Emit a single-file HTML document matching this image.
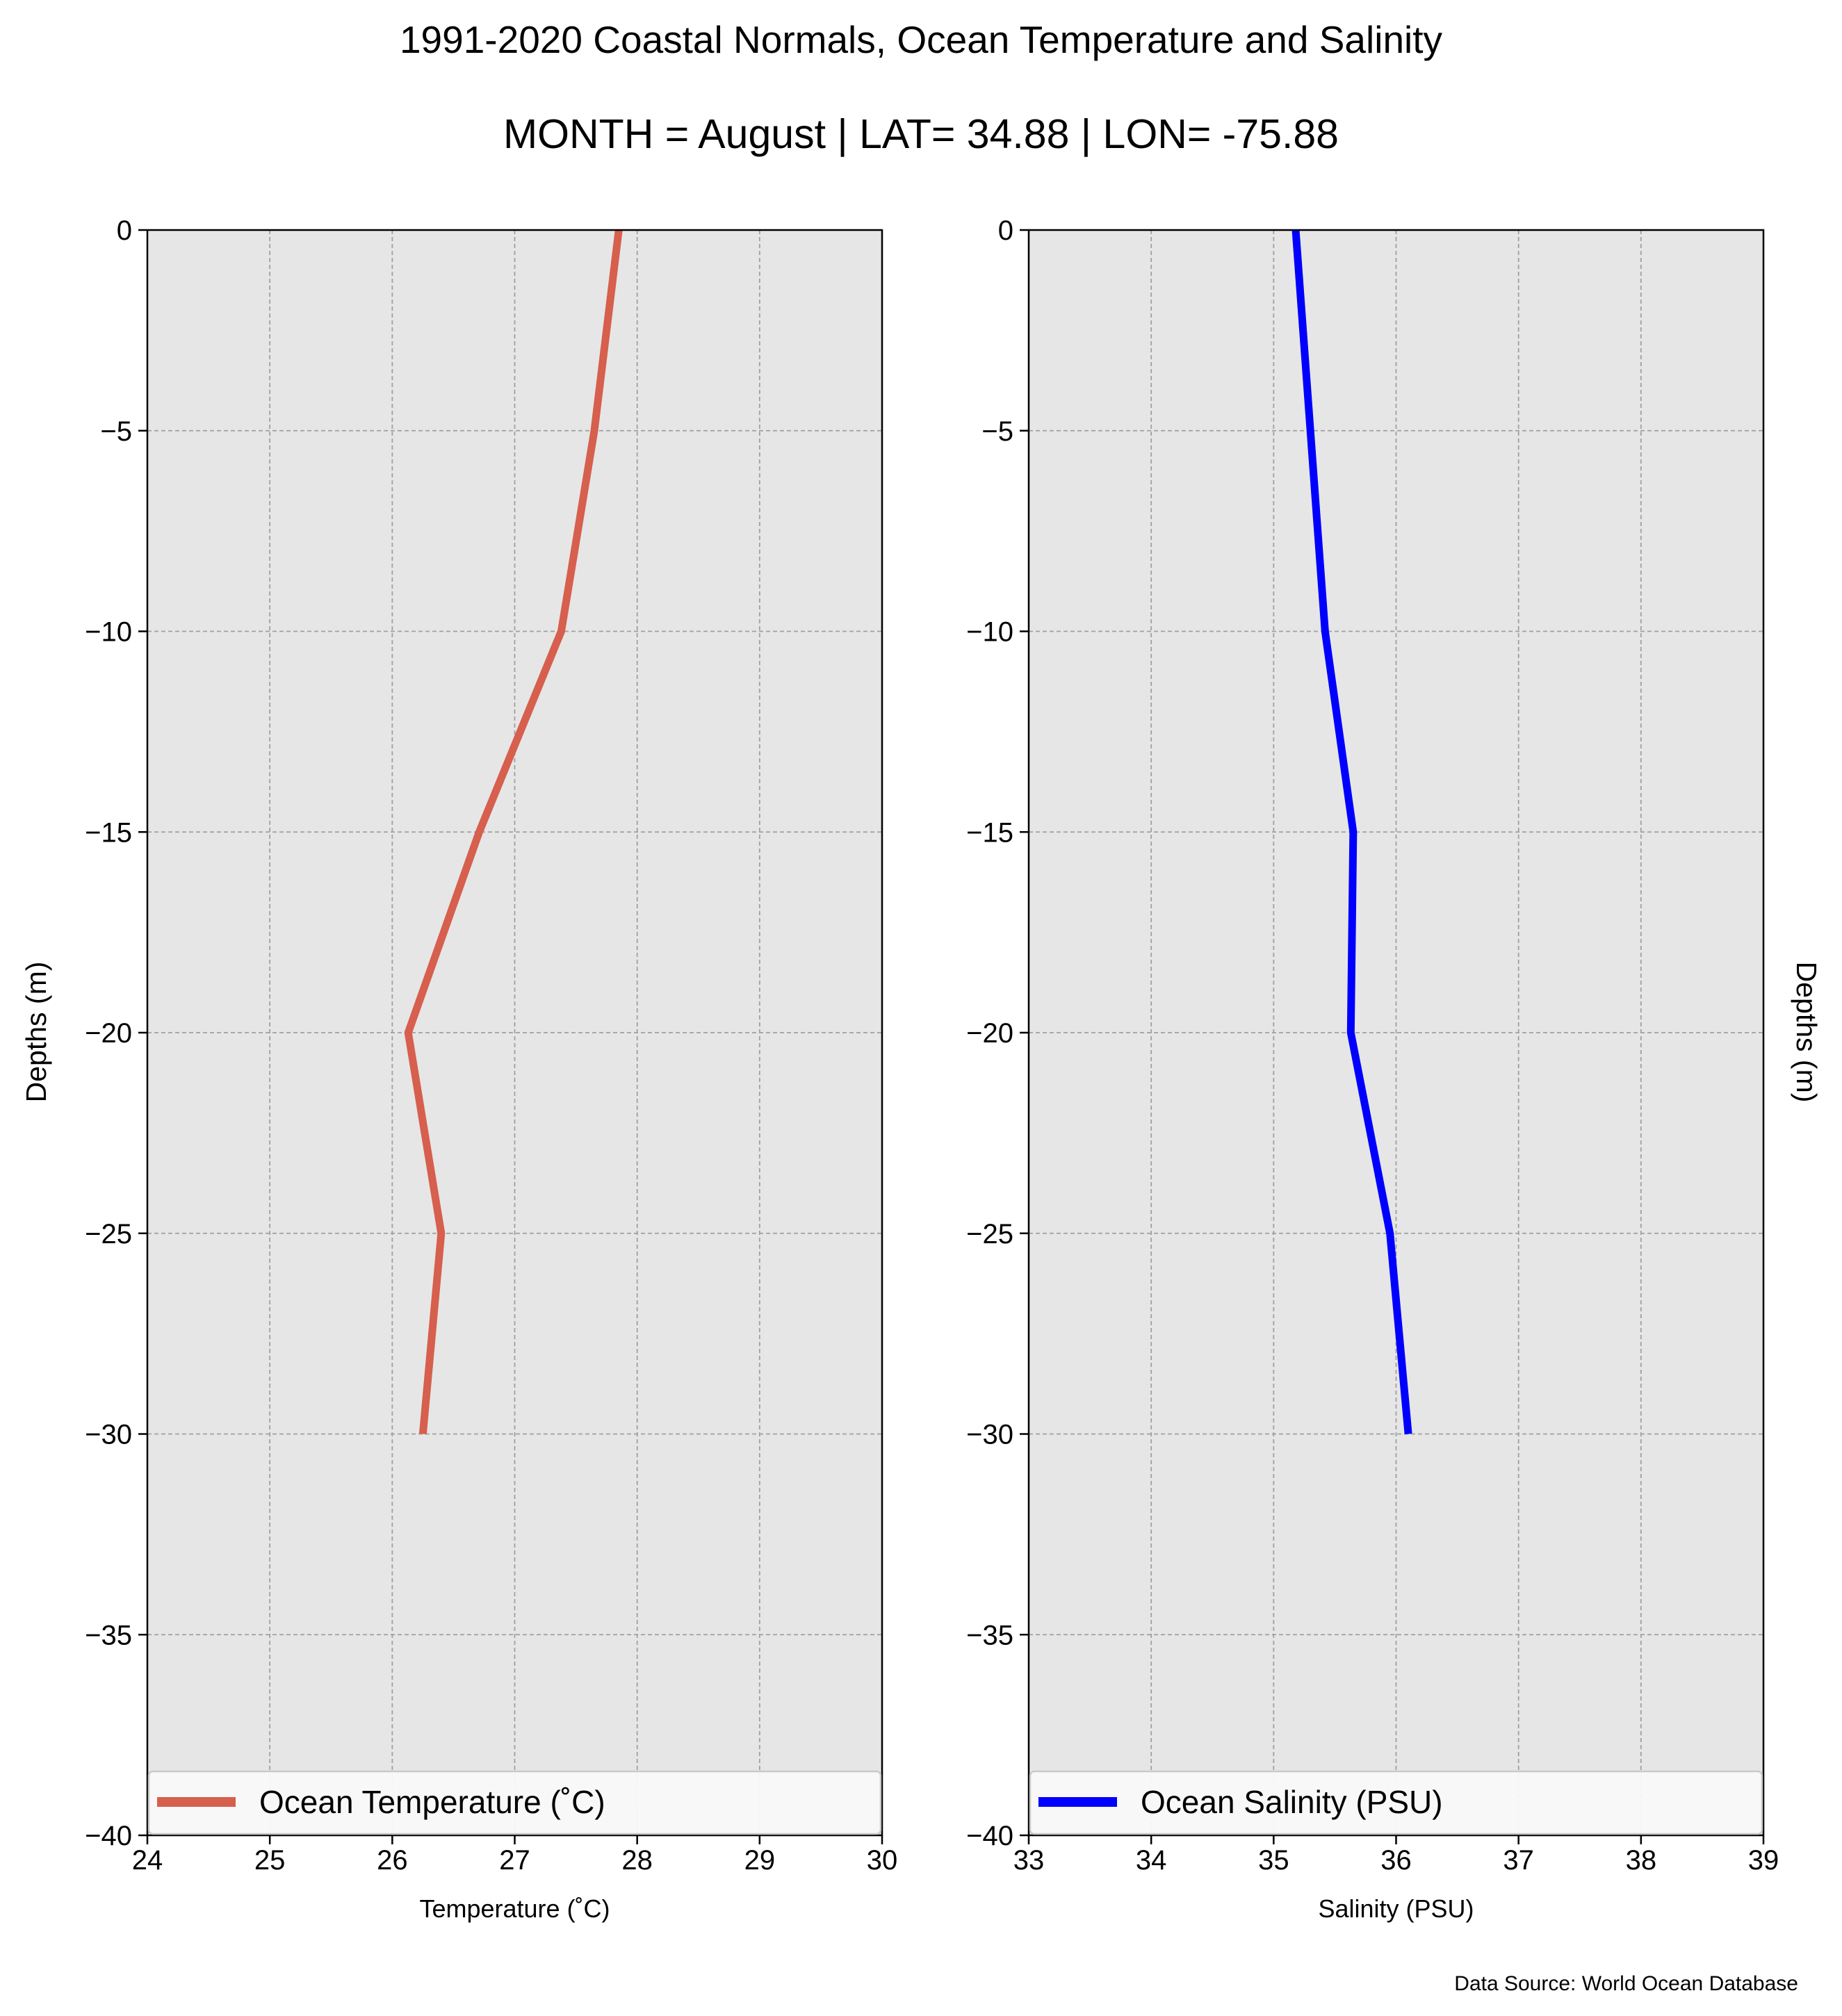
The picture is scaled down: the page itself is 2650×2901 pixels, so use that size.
<!DOCTYPE html>
<html><head><meta charset="utf-8"><style>
html,body{margin:0;padding:0;background:#fff;}
svg{display:block;font-family:"Liberation Sans","DejaVu Sans",sans-serif;}
</style></head><body>
<svg id="chart" width="2650" height="2901" viewBox="0 0 2650 2901" xmlns="http://www.w3.org/2000/svg">
<text x="1325" y="76" font-size="55" text-anchor="middle">1991-2020 Coastal Normals, Ocean Temperature and Salinity</text>
<text x="1325" y="213" font-size="59" text-anchor="middle">MONTH = August | LAT= 34.88 | LON= -75.88</text>
<g id="left"></g>
<g id="right"></g>
<text transform="translate(66,1485) rotate(-90)" font-size="41" text-anchor="middle">Depths (m)</text>
<text transform="translate(2585,1485) rotate(90)" font-size="41" text-anchor="middle">Depths (m)</text>
<text x="2587" y="2864" font-size="30" text-anchor="end">Data Source: World Ocean Database</text>
</svg>
<script>
const depths = [0, -5, -10, -15, -20, -25, -30];
const temperature = [27.85, 27.65, 27.38, 26.71, 26.13, 26.4, 26.25];
const salinity = [35.18, 35.3, 35.42, 35.65, 35.63, 35.95, 36.1];
const yTicks = [0, -5, -10, -15, -20, -25, -30, -35, -40];
const tempTicks = [24, 25, 26, 27, 28, 29, 30];
const salTicks = [33, 34, 35, 36, 37, 38, 39];

const NS = "http://www.w3.org/2000/svg";
const TOP = 331, BOT = 2641;
function mk(tag, attrs, parent) {
  const e = document.createElementNS(NS, tag);
  for (const k in attrs) e.setAttribute(k, attrs[k]);
  parent.appendChild(e);
  return e;
}
function panel(g, x0, x1, xmin, xmax, xTicks, vals, color, legendText, xlabel, key) {
  const sx = v => x0 + (v - xmin) / (xmax - xmin) * (x1 - x0);
  const sy = v => TOP + (0 - v) / 40 * (BOT - TOP);
  const bg = mk('rect', {x: x0, y: TOP, width: x1 - x0, height: BOT - TOP, fill: '#e6e6e6'}, g);
  
  
  xTicks.forEach(t => {
    const x = sx(t);
    const gl = mk('line', {x1: x, x2: x, y1: TOP, y2: BOT, stroke: '#a0a0a0', 'stroke-width': 1.8, 'stroke-dasharray': '6,4'}, g);
    
    
    mk('line', {x1: x, x2: x, y1: BOT, y2: BOT + 13, stroke: '#000', 'stroke-width': 2.5}, g);
    const tl = mk('text', {x: x, y: 2690, 'font-size': 40, 'text-anchor': 'middle'}, g);
    tl.textContent = t;
    
    
  });
  yTicks.forEach(t => {
    const y = sy(t);
    const gl = mk('line', {x1: x0, x2: x1, y1: y, y2: y, stroke: '#a0a0a0', 'stroke-width': 1.8, 'stroke-dasharray': '6,4'}, g);
    
    
    mk('line', {x1: x0 - 13, x2: x0, y1: y, y2: y, stroke: '#000', 'stroke-width': 2.5}, g);
    const tl = mk('text', {x: x0 - 22, y: y + 14, 'font-size': 40, 'text-anchor': 'end'}, g);
    tl.textContent = t === 0 ? '0' : '\u2212' + Math.abs(t);
    
    
  });
  const pts = vals.map((v, i) => sx(v) + ',' + sy(depths[i])).join(' ');
  const line = mk('polyline', {points: pts, fill: 'none', stroke: color, 'stroke-width': 11, 'stroke-linejoin': 'miter'}, g);
  
  
  const frame = mk('rect', {x: x0, y: TOP, width: x1 - x0, height: BOT - TOP, fill: 'none', stroke: '#000', 'stroke-width': 2.5}, g);
  
  
  const lg = mk('g', {}, g);
  
  
  mk('rect', {x: x0 + 2, y: 2549, width: x1 - x0 - 4, height: 90, rx: 6, fill: '#f9f9f9', stroke: '#c8c8c8', 'stroke-width': 2.5, opacity: 0.95}, lg);
  const ls = mk('line', {x1: x0 + 14, x2: x0 + 127, y1: 2593, y2: 2593, stroke: color, 'stroke-width': 14}, lg);
  
  
  const lt = mk('text', {x: x0 + 161, y: 2609, 'font-size': 46}, lg);
  lt.textContent = legendText;
  
  
  const xl = mk('text', {x: (x0 + x1) / 2, y: 2759, 'font-size': 36, 'text-anchor': 'middle'}, g);
  xl.textContent = xlabel;
  
  
}
panel(document.getElementById('left'), 212, 1269, 24, 30, tempTicks, temperature, '#d65f4d', 'Ocean Temperature (\u02daC)', 'Temperature (\u02daC)', 'temperature');
panel(document.getElementById('right'), 1480, 2537, 33, 39, salTicks, salinity, '#0000ff', 'Ocean Salinity (PSU)', 'Salinity (PSU)', 'salinity');
</script>
</body></html>
